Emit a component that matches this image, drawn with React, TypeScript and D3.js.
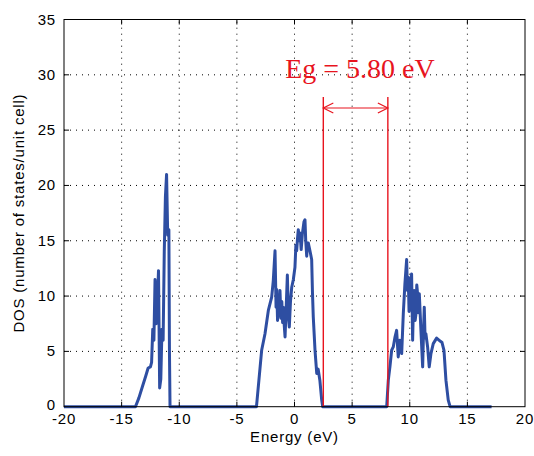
import React from 'react';
import * as d3 from 'd3';

// energy (eV) / DOS pairs
const lowBand: [number, number][] = [
  [-20, 0], [-13.8, 0], [-13.5, 0.8], [-13.2, 1.8], [-12.9, 2.8], [-12.7, 3.5],
  [-12.5, 3.6], [-12.4, 4.0], [-12.3, 7.0], [-12.2, 6.0], [-12.1, 11.5], [-12.0, 7.5],
  [-11.9, 9.5], [-11.8, 12.3], [-11.7, 1.7], [-11.6, 2.5], [-11.5, 7.0], [-11.4, 6.0],
  [-11.3, 14.0], [-11.2, 19.0], [-11.1, 21.0], [-11.0, 15.5], [-10.9, 16.0],
  [-10.85, 5.0], [-10.8, 0],
];
const valenceBand: [number, number][] = [
  [-3.3, 0], [-2.85, 5.1], [-2.56, 6.6], [-2.27, 8.7], [-1.98, 9.9], [-1.84, 11.4],
  [-1.69, 14.1], [-1.6, 9.0], [-1.54, 10.6], [-1.47, 7.8], [-1.4, 9.8], [-1.33, 8.2],
  [-1.26, 10.5], [-1.18, 8.0], [-1.1, 9.5], [-1.03, 7.6], [-0.97, 9.0], [-0.9, 7.5],
  [-0.82, 6.3], [-0.72, 9.0], [-0.62, 11.9], [-0.52, 8.0], [-0.45, 7.2], [-0.35, 9.5],
  [-0.24, 10.8], [-0.1, 11.5], [0.04, 12.6], [0.12, 14.6], [0.19, 14.1], [0.26, 15.2],
  [0.33, 16.0], [0.42, 15.0], [0.48, 15.7], [0.58, 14.2], [0.68, 15.6], [0.82, 16.7],
  [0.91, 16.9], [0.97, 15.1], [1.06, 13.6], [1.13, 14.8], [1.2, 14.8], [1.34, 14.1],
  [1.49, 13.3], [1.56, 10.3], [1.63, 8.1], [1.78, 5.1], [1.93, 3.0], [2.05, 3.4],
  [2.2, 2.4], [2.36, 0.6], [2.45, 0],
];
const conductionBand: [number, number][] = [
  [8.0, 0], [8.14, 2.4], [8.28, 3.6], [8.43, 5.1], [8.57, 5.4], [8.72, 6.3], [8.86, 6.9],
  [9.0, 4.5], [9.15, 6.0], [9.3, 4.8], [9.44, 8.4], [9.58, 11.1], [9.73, 13.3],
  [9.8, 10.5], [9.87, 11.7], [9.94, 8.6], [10.0, 9.0], [10.08, 11.2], [10.16, 12.0],
  [10.25, 6.0], [10.32, 9.2], [10.39, 10.5], [10.47, 7.8], [10.54, 8.4], [10.61, 11.0],
  [10.68, 10.2], [10.76, 8.5], [10.83, 10.2], [10.97, 6.9], [11.12, 3.6], [11.2, 7.0],
  [11.26, 9.0], [11.33, 6.2], [11.4, 6.6], [11.55, 5.4], [11.69, 3.6], [11.84, 4.8],
  [12.04, 5.7], [12.33, 6.2], [12.56, 6.0], [12.8, 5.8], [12.97, 5.1], [13.14, 2.4],
  [13.34, 0.6], [13.5, 0], [17.1, 0],
];

const xTicks = [-20, -15, -10, -5, 0, 5, 10, 15, 20];
const yTicks = [0, 5, 10, 15, 20, 25, 30, 35];
const gapEdges = [2.5, 8.1];
const gapLabel = 'Eg = 5.80 eV';

const width = 534;
const height = 456;
const margin = { top: 19.5, right: 9, bottom: 49.3, left: 64 };
const font = 'Arial, "Liberation Sans", sans-serif';
const red = '#e8141e';
const blue = '#2e4ea2';
const labelStyle = { fontFamily: font, fontSize: 15, letterSpacing: 0.8 };

export default function App() {
  const x = d3.scaleLinear().domain([-20, 20]).range([margin.left, width - margin.right]);
  const y = d3.scaleLinear().domain([0, 35]).range([height - margin.bottom, margin.top]);
  const line = d3.line<[number, number]>().x(d => x(d[0])).y(d => y(d[1]));
  const series = [...lowBand, ...valenceBand, ...conductionBand];

  const x0 = x(-20), x1 = x(20), y0 = y(0), y1 = y(35);
  const arrowY = y(27);
  const ax0 = x(gapEdges[0]), ax1 = x(gapEdges[1]);

  return (
    <svg width={width} height={height} style={{ position: 'absolute', left: 0, top: 0, background: '#fff' }}>
      {/* dotted grid */}
      {xTicks.slice(1, -1).map(t => (
        <line key={'gx' + t} x1={x(t)} x2={x(t)} y1={y0} y2={y1}
          stroke="#000" strokeWidth={1} strokeDasharray="1,5" />
      ))}
      {yTicks.slice(1, -1).map(t => (
        <line key={'gy' + t} x1={x0} x2={x1} y1={y(t)} y2={y(t)}
          stroke="#000" strokeWidth={1} strokeDasharray="1,5" />
      ))}

      {/* DOS curve */}
      <path d={line(series) || ''} fill="none" stroke={blue} strokeWidth={3} strokeLinejoin="round" />

      {/* band gap markers */}
      {gapEdges.map(e => (
        <line key={'g' + e} x1={x(e)} x2={x(e)} y1={y0} y2={y(28)} stroke={red} strokeWidth={1.4} />
      ))}
      <line x1={ax0} x2={ax1} y1={arrowY} y2={arrowY} stroke={red} strokeWidth={1.2} />
      <path d={`M${ax0 + 10},${arrowY - 5}L${ax0},${arrowY}L${ax0 + 10},${arrowY + 5}`} fill="none" stroke={red} strokeWidth={1.2} />
      <path d={`M${ax1 - 10},${arrowY - 5}L${ax1},${arrowY}L${ax1 - 10},${arrowY + 5}`} fill="none" stroke={red} strokeWidth={1.2} />
      <text x={360} y={78} textAnchor="middle" fill={red}
        style={{ fontFamily: '"Liberation Serif", "Times New Roman", serif', fontSize: 28 }}>
        {gapLabel}
      </text>

      {/* axes box and ticks */}
      <rect x={x0} y={y1} width={x1 - x0} height={y0 - y1} fill="none" stroke="#000" strokeWidth={1} />
      {xTicks.slice(1, -1).map(t => (
        <g key={'tx' + t}>
          <line x1={x(t)} x2={x(t)} y1={y0} y2={y0 - 5} stroke="#000" />
          <line x1={x(t)} x2={x(t)} y1={y1} y2={y1 + 5} stroke="#000" />
        </g>
      ))}
      {yTicks.slice(1, -1).map(t => (
        <g key={'ty' + t}>
          <line x1={x0} x2={x0 + 5} y1={y(t)} y2={y(t)} stroke="#000" />
          <line x1={x1} x2={x1 - 5} y1={y(t)} y2={y(t)} stroke="#000" />
        </g>
      ))}

      {/* tick labels */}
      {xTicks.map(t => (
        <text key={'lx' + t} x={x(t)} y={y0 + 17} textAnchor="middle" style={labelStyle}>{t}</text>
      ))}
      {yTicks.map(t => (
        <text key={'ly' + t} x={x0 - 8} y={y(t) + (t === 0 ? 3 : 5)} textAnchor="end" style={labelStyle}>{t}</text>
      ))}

      {/* axis titles */}
      <text x={(x0 + x1) / 2} y={y0 + 35} textAnchor="middle" style={labelStyle}>Energy (eV)</text>
      <text transform={`translate(24,${(y0 + y1) / 2}) rotate(-90)`} textAnchor="middle"
        style={labelStyle}>DOS (number of states/unit cell)</text>
    </svg>
  );
}
